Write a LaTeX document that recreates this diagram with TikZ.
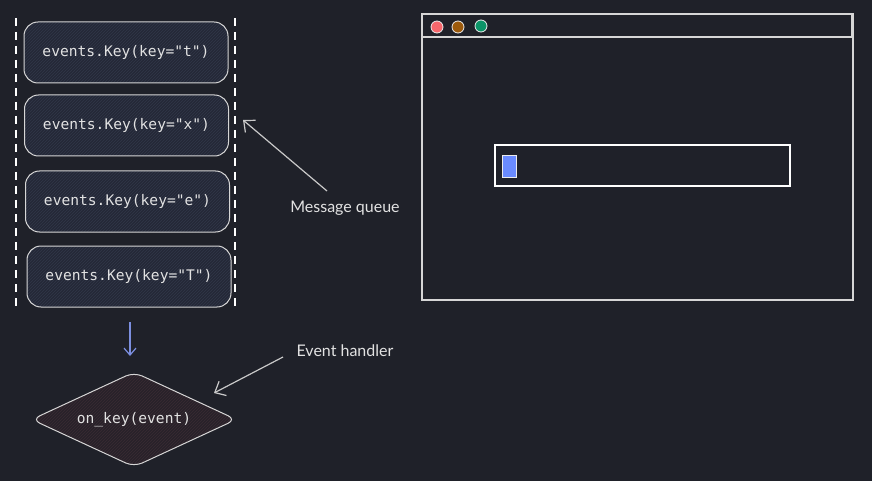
\documentclass[tikz,border=0pt]{standalone}
\usepackage{fontspec}
\setmonofont{DejaVu Sans Mono}
\newfontfamily\handfont{Lato}
\usetikzlibrary{arrows.meta,shapes.geometric,patterns}
\definecolor{bg}{HTML}{1F2129}
\definecolor{boxfill}{HTML}{242837}
\definecolor{boxhatch}{HTML}{313749}
\definecolor{diafill}{HTML}{28222A}
\definecolor{diahatch}{HTML}{3A2B33}
\definecolor{lineclr}{HTML}{D6D6D6}
\definecolor{txtclr}{HTML}{E2E2E2}
\definecolor{arrowblue}{HTML}{7C8FE0}
\definecolor{dotred}{HTML}{F7676C}
\definecolor{dotbrown}{HTML}{9C5A0C}
\definecolor{dotgreen}{HTML}{0C9468}
\definecolor{cursorblue}{HTML}{6A8BFF}
\tikzset{
  qbox/.style={draw=lineclr, line width=1pt, rounded corners=14pt,
    minimum width=204pt, minimum height=61pt,
    preaction={fill=boxfill}, pattern=north east lines, pattern color=boxhatch,
    text=txtclr, font=\ttfamily\fontsize{14.6}{17}\selectfont},
  handler/.style={diamond, aspect=2.18, draw=lineclr, line width=1pt, rounded corners=9pt,
    minimum width=205pt, minimum height=95pt, inner sep=0pt,
    preaction={fill=diafill}, pattern=north east lines, pattern color=diahatch,
    text=txtclr, font=\ttfamily\fontsize{14.6}{17}\selectfont},
  note/.style={text=txtclr, font=\handfont\fontsize{16}{18}\selectfont, inner sep=0pt},
  pointer/.style={draw=lineclr!85!gray, line width=1.2pt,
    -{Straight Barb[length=9pt,width=16pt,line width=1.2pt]}},
  bluearrow/.style={draw=arrowblue, line width=1.2pt,
    -{Straight Barb[length=7pt,width=12pt,line width=1.2pt]}},
  qline/.style={draw=white, line width=1.6pt, dash pattern=on 8pt off 6pt},
  winline/.style={draw=lineclr, line width=1.2pt},
  dot/.style={circle, draw=white!85!gray, line width=0.8pt, minimum size=12pt, inner sep=0pt}
}
\begin{document}
\begin{tikzpicture}[x=1pt,y=-1pt]
\fill[bg] (0,0) rectangle (872,481);
\useasboundingbox (0,0) rectangle (872,481);

% message queue
\draw[qline] (16,18) -- (16,308);
\draw[qline] (235,18) -- (235,306);
\node[qbox] (q1) at (126,52.5) {events.Key(key="t")};
\node[qbox] (q2) at (126.5,125.5) {events.Key(key="x")};
\node[qbox] (q3) at (127.5,201.5) {events.Key(key="e")};
\node[qbox] (q4) at (129,276.5) {events.Key(key="T")};

% handler
\node[handler] (h) at (134,419.5) {on\textunderscore key(event)};
\coordinate (b1) at (130,322);
\coordinate (b2) at (130,356);
\draw[bluearrow] (b1) -- (b2);

% labels
\node[note] (mq) at (345,208) {Message queue};
\coordinate (mqtail) at (327,191);
\coordinate (mqhead) at (243,120);
\draw[pointer] (mqtail) -- (mqhead);

\node[note] (eh) at (345,351) {Event handler};
\coordinate (ehtail) at (283,357);
\coordinate (ehhead) at (214,393);
\draw[pointer] (ehtail) -- (ehhead);

% window
\draw[winline] (422,14) rectangle (853,300);
\draw[winline] (422,14) rectangle (852,37);
\node[dot, fill=dotred] (r) at (437,27) {};
\node[dot, fill=dotbrown] (o) at (458,27) {};
\node[dot, fill=dotgreen] (g) at (481,26) {};
\draw[draw=white, line width=1.4pt] (495,145) rectangle (790,186);
\draw[draw=white!85!gray, line width=0.8pt, fill=cursorblue] (502,155) rectangle (516,177);
\end{tikzpicture}
\end{document}
